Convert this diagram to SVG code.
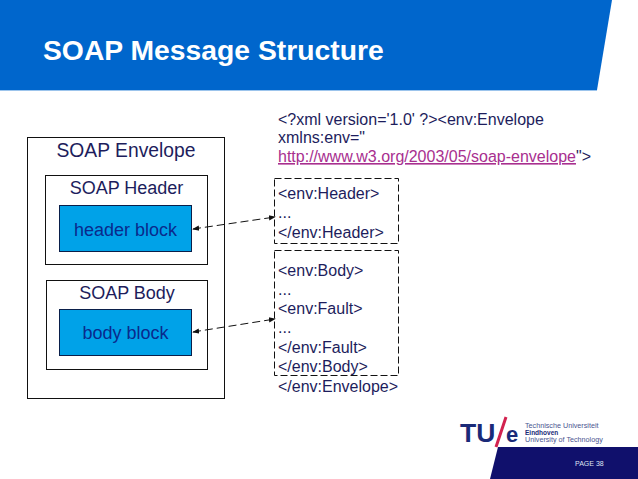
<svg xmlns="http://www.w3.org/2000/svg" width="638" height="479" viewBox="0 0 638 479">
<style>
text{font-family:"Liberation Sans",Arial,sans-serif;fill:#1d1d5c}
.box{fill:#fff;stroke:#111;stroke-width:1}
.blk{fill:#00a2e8;stroke:#0a1f4a;stroke-width:1}
.dash{fill:none;stroke:#111;stroke-width:1;stroke-dasharray:7 3}
.conn{fill:none;stroke:#111;stroke-width:1;stroke-dasharray:8 4;marker-start:url(#a);marker-end:url(#a)}
.code{font-size:16px}
.m{text-anchor:middle}
.lbl{font-size:18px}
</style>
<defs><marker id="a" viewBox="0 0 8 8" refX="7" refY="4" markerWidth="7" markerHeight="7" markerUnits="userSpaceOnUse" orient="auto-start-reverse"><path d="M0 1L8 4L0 7Z" fill="#111"/></marker></defs>
<rect width="638" height="479" fill="#fff"/>
<g id="banner"><polygon points="0,0 612,0 597,90 0,90" fill="#0066cc"/><line x1="0" y1="90.5" x2="597" y2="90.5" stroke="#9cc4ec"/>
<text x="43" y="60" font-size="28.300" font-weight="700" style="fill:#fff">SOAP Message Structure</text></g>
<g id="envelope"><rect class="box" x="27.500" y="137.500" width="197" height="261"/><text class="m" x="126" y="157" font-size="19.300">SOAP Envelope</text></g>
<g id="header"><rect class="box" x="45.500" y="175.500" width="162" height="89"/><text class="m lbl" x="126.500" y="194">SOAP Header</text></g>
<g id="header-block"><rect class="blk" x="59.500" y="205.500" width="132" height="46"/><text class="m lbl" x="125.500" y="236" style="fill:#0a2a8c">header block</text></g>
<g id="body"><rect class="box" x="46.500" y="280.500" width="161" height="89"/><text class="m lbl" x="127" y="299">SOAP Body</text></g>
<g id="body-block"><rect class="blk" x="59.500" y="309.500" width="132" height="46"/><text class="m lbl" x="125.500" y="339" style="fill:#0a2a8c">body block</text></g>
<g id="xml-head"><text class="code" x="278" y="125">&lt;?xml version='1.0' ?&gt;&lt;env:Envelope</text><text class="code" x="278" y="143">xmlns:env="</text><text class="code" x="278" y="162"><tspan style="fill:#a82f8f" text-decoration="underline">http://www.w3.org/2003/05/soap-envelope</tspan>"&gt;</text></g>
<g id="xml-header"><rect class="dash" x="274.500" y="178.500" width="124" height="65"/><text class="code" x="278" y="199">&lt;env:Header&gt;</text><text class="code" x="278" y="218">...</text><text class="code" x="278" y="238">&lt;/env:Header&gt;</text></g>
<g id="xml-body"><rect class="dash" x="274.500" y="250.500" width="124" height="125"/><text class="code" x="278" y="276">&lt;env:Body&gt;</text><text class="code" x="278" y="295">...</text><text class="code" x="278" y="314">&lt;env:Fault&gt;</text><text class="code" x="278" y="333">...</text><text class="code" x="278" y="353">&lt;/env:Fault&gt;</text><text class="code" x="278" y="372">&lt;/env:Body&gt;</text><text class="code" x="278" y="392">&lt;/env:Envelope&gt;</text></g>
<g id="connectors"><line class="conn" x1="193" y1="229" x2="275" y2="217"/><line class="conn" x1="193" y1="332" x2="275" y2="319"/></g>
<g id="footer"><polygon points="498,447 638,447 638,479 490,479" fill="#10106c"/><text x="575" y="466" font-size="7" style="fill:#dfe3f2">PAGE 38</text></g>
<g id="logo"><text x="460" y="442" font-size="26.500" font-weight="700" style="fill:#1a2a78">TU</text><line x1="496" y1="447" x2="506" y2="417" stroke="#d2224f" stroke-width="3"/><text x="506" y="442" font-size="22" font-weight="700" style="fill:#1a2a78">e</text>
<text x="525" y="427.500" font-size="7.200" style="fill:#4a5590">Technische Universiteit</text><text x="525" y="434.500" font-size="6.500" font-weight="700" style="fill:#1a2a78">Eindhoven</text><text x="525" y="442" font-size="7.200" style="fill:#4a5590">University of Technology</text></g>
</svg>
